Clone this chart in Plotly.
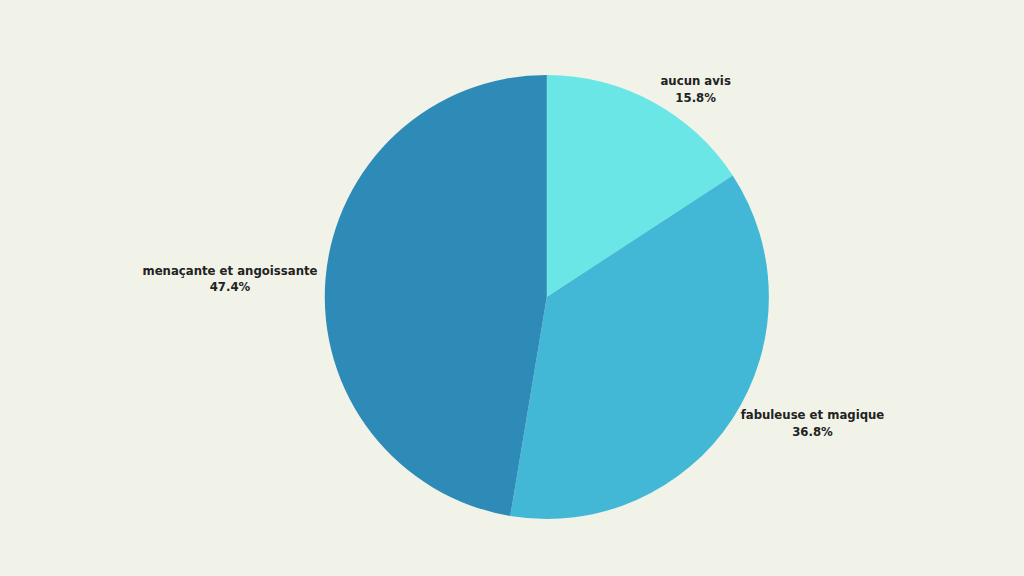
import plotly.graph_objects as go

# opinion survey: share of answers
labels = ['aucun avis', 'fabuleuse et magique', 'menaçante et angoissante']
counts = [3, 7, 9]
colors = ['#6ae6e6', '#42b8d6', '#2e8bb8']

fig = go.Figure()
fig.add_trace(go.Pie(
    labels=labels, values=counts, sort=False, direction='clockwise', rotation=0,
    marker=dict(colors=colors, line=dict(width=0)),
    texttemplate='%{label}<br>%{percent:.1%}', textposition='outside',
    textfont=dict(family='DejaVu Sans Condensed', size=13, color='#222222', weight='bold'),
    domain=dict(x=[0.317, 0.751], y=[0.099, 0.870]),
    showlegend=False, hoverinfo='label+percent',
))
fig.update_layout(width=1024, height=576, margin=dict(l=0, r=0, t=0, b=0),
                  paper_bgcolor='#f1f3e8', plot_bgcolor='#f1f3e8')
fig.write_html('out.html', config={'displayModeBar': False},
               post_script="document.body.style.margin='0';")
